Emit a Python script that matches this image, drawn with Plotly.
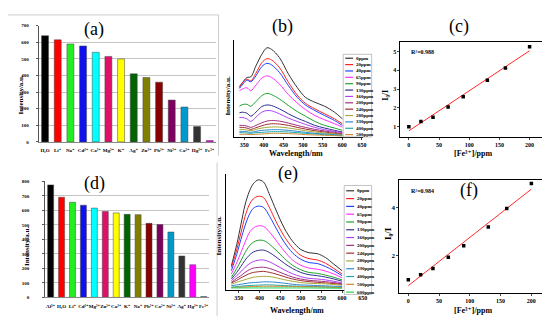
import plotly.graph_objects as go
import numpy as np

W, H = 550, 316
SERIF = "Liberation Serif, DejaVu Serif"


def px(x):
    return x / W


def py(y):
    return 1 - y / H


def dom_x(a, b):
    return [px(a), px(b)]


def dom_y(top, bottom):
    return [py(bottom), py(top)]


# ---------------- data ----------------
ions_a = ["H₂O", "Li⁺", "Na⁺", "Cd²⁺", "Ca²⁺", "Mg²⁺", "K⁺", "Ag⁺", "Zn²⁺", "Pb²⁺",
          "Ni²⁺", "Co²⁺", "Hg²⁺", "Fe³⁺"]
vals_a = [640, 615, 590, 578, 540, 515, 500, 410, 388, 360, 252, 210, 92, 8]
colors_a = ["#000000", "#ff0000", "#22ee22", "#1010ee", "#00ffff", "#e0106a", "#ffff00",
            "#006400", "#808000", "#8b0000", "#800060", "#0099cc", "#333333", "#ff00ff"]

ions_d = ["Al³⁺", "H₂O", "Li⁺", "Cd²⁺", "Mg²⁺", "Zn²⁺", "Ca²⁺", "K⁺", "Na⁺", "Pb²⁺",
          "Co²⁺", "Ni²⁺", "Ag⁺", "Hg²⁺", "Fe³⁺"]
vals_d = [775, 690, 655, 635, 615, 592, 582, 572, 570, 510, 502, 450, 285, 225, 6]
colors_d = ["#000000", "#ff0000", "#22ee22", "#1010ee", "#00ffff", "#e0106a", "#ffff00",
            "#006400", "#808000", "#8b0000", "#800060", "#0099cc", "#333333", "#ff00ff", "#4682b4"]

conc_b = ["0ppm", "20ppm", "40ppm", "65ppm", "90ppm", "130ppm", "160ppm", "200ppm",
          "240ppm", "280ppm", "330ppm", "400ppm", "500ppm"]
conc_e = conc_b + ["600ppm"]
line_colors = ["#333333", "#ff2020", "#2040ff", "#ff30ff", "#20a030", "#303090", "#b040f0",
               "#a03080", "#a03030", "#a8a838", "#3088d0", "#20a8a8", "#c88838", "#20d050"]

wl_b = [338, 345, 357, 367, 380, 395, 408, 420, 440, 463, 485, 506, 530, 555, 580, 600]
spec_b = [
    [450, 489, 540, 546, 645, 750, 810, 795, 720, 570, 450, 360, 315, 279, 225, 165],
    [459, 489, 525, 510, 579, 675, 711, 699, 630, 495, 381, 306, 255, 210, 165, 120],
    [441, 471, 516, 501, 555, 639, 669, 654, 585, 465, 360, 291, 240, 195, 150, 105],
    [420, 435, 447, 420, 471, 534, 555, 540, 480, 384, 309, 249, 195, 156, 120, 90],
    [279, 294, 297, 279, 321, 375, 396, 384, 345, 285, 231, 189, 141, 105, 81, 60],
    [219, 225, 216, 189, 225, 276, 291, 285, 255, 210, 171, 141, 105, 81, 60, 45],
    [177, 177, 165, 141, 180, 225, 240, 237, 210, 171, 141, 114, 87, 66, 51, 39],
    [105, 105, 99, 87, 105, 129, 144, 150, 144, 126, 105, 87, 69, 54, 42, 30],
    [87, 87, 81, 69, 84, 102, 114, 120, 117, 105, 87, 72, 57, 45, 33, 24],
    [69, 69, 63, 57, 69, 81, 87, 90, 90, 81, 69, 57, 45, 36, 27, 21],
    [51, 51, 48, 42, 51, 60, 63, 66, 66, 60, 51, 42, 33, 27, 21, 15],
    [39, 39, 36, 33, 39, 42, 45, 48, 48, 45, 39, 33, 27, 21, 15, 12],
    [24, 24, 24, 21, 24, 27, 30, 33, 33, 30, 27, 21, 18, 15, 12, 9],
]

wl_e = [332, 345, 355, 365, 375, 385, 397, 410, 425, 440, 460, 480, 500, 520, 540, 560, 580, 600]
spec_e = [
    [180, 343, 493, 643, 743, 805, 835, 818, 718, 605, 468, 368, 305, 280, 273, 243, 193, 143],
    [168, 305, 430, 555, 643, 690, 710, 700, 618, 518, 405, 318, 260, 235, 225, 200, 160, 118],
    [143, 268, 380, 485, 568, 618, 635, 625, 555, 468, 360, 280, 230, 205, 198, 175, 143, 105],
    [118, 205, 280, 360, 430, 468, 485, 480, 435, 375, 293, 225, 185, 163, 155, 140, 118, 88],
    [93, 160, 218, 280, 330, 360, 375, 373, 343, 300, 238, 185, 150, 130, 123, 110, 93, 73],
    [80, 130, 175, 223, 260, 285, 298, 300, 280, 248, 200, 160, 130, 113, 105, 95, 80, 63],
    [68, 105, 135, 168, 195, 213, 223, 225, 210, 185, 150, 120, 98, 85, 80, 73, 63, 50],
    [55, 85, 105, 130, 150, 163, 168, 170, 160, 143, 118, 95, 80, 70, 65, 60, 53, 43],
    [50, 70, 88, 105, 120, 130, 135, 138, 130, 118, 98, 80, 68, 60, 55, 50, 45, 38],
    [40, 55, 65, 75, 85, 93, 98, 100, 98, 90, 75, 63, 53, 48, 45, 43, 38, 33],
    [28, 35, 40, 45, 50, 53, 55, 58, 58, 55, 48, 40, 35, 33, 30, 28, 25, 23],
    [18, 22, 25, 28, 30, 32, 33, 35, 35, 33, 30, 27, 25, 23, 22, 20, 18, 15],
    [14, 17, 18, 20, 22, 23, 24, 25, 25, 25, 24, 23, 22, 21, 20, 18, 16, 14],
    [12, 12, 12, 12, 12, 12, 12, 12, 12, 12, 12, 12, 12, 12, 11, 11, 10, 10],
]

fe_c = [0, 20, 40, 65, 90, 130, 160, 200]
ratio_c = [1.0, 1.28, 1.5, 2.05, 2.6, 3.48, 4.12, 5.25]
fe_f = [0, 20, 40, 65, 90, 130, 160, 200]
ratio_f = [0.98, 1.19, 1.45, 1.92, 2.41, 3.19, 3.97, 5.02]

# ---------------- figure ----------------
fig = go.Figure()

fig.add_trace(go.Bar(x=ions_a, y=vals_a, marker=dict(color=colors_a, line=dict(color="#444", width=0.5)),
                     width=0.55, xaxis="x", yaxis="y", showlegend=False))
fig.add_trace(go.Bar(x=ions_d, y=vals_d, marker=dict(color=colors_d, line=dict(color="#444", width=0.5)),
                     width=0.55, xaxis="x4", yaxis="y4", showlegend=False))

for name, ys, col in zip(conc_b, spec_b, line_colors):
    fig.add_trace(go.Scatter(x=wl_b, y=ys, mode="lines", name=name,
                             line=dict(color=col, width=1, shape="spline", smoothing=0.9),
                             xaxis="x2", yaxis="y2", showlegend=False))
for name, ys, col in zip(conc_e, spec_e, line_colors):
    fig.add_trace(go.Scatter(x=wl_e, y=ys, mode="lines", name=name,
                             line=dict(color=col, width=1, shape="spline", smoothing=0.9),
                             xaxis="x5", yaxis="y5", showlegend=False))

for xs, ys, xa, ya in [(fe_c, ratio_c, "x3", "y3"), (fe_f, ratio_f, "x6", "y6")]:
    k, b = np.polyfit(xs, ys, 1)
    xfit = [min(xs), max(xs)]
    fig.add_trace(go.Scatter(x=xfit, y=[k * v + b for v in xfit], mode="lines",
                             line=dict(color="#ff2a2a", width=1), xaxis=xa, yaxis=ya, showlegend=False))
    fig.add_trace(go.Scatter(x=xs, y=ys, mode="markers",
                             marker=dict(symbol="square", size=3.5, color="black"),
                             xaxis=xa, yaxis=ya, showlegend=False))

tickf = dict(family=SERIF, size=6, color="black", weight="bold")
barxf = dict(family=SERIF, size=5, color="black", weight="bold")
baryf = dict(family=SERIF, size=5, color="black", weight="bold")

layout = dict(
    width=W, height=H, margin=dict(l=0, r=0, t=0, b=0),
    paper_bgcolor="white", plot_bgcolor="rgba(0,0,0,0)",
    showlegend=False,
)

layout["xaxis"] = dict(domain=dom_x(31, 210), anchor="y", type="category", showline=True, linecolor="#888",
                       linewidth=1, ticks="", tickfont=barxf, ticklabelstandoff=3, showgrid=False,
                       range=[-0.5, 13.5], tickangle=0)
layout["yaxis"] = dict(domain=dom_y(16, 134), anchor="x", range=[0, 700], tickvals=list(range(0, 701, 100)),
                       showgrid=True, gridcolor="#c4c4c4", gridwidth=1, showline=True, linecolor="#555",
                       ticks="outside", ticklen=2, tickcolor="#555", tickfont=baryf,
                       ticklabelstandoff=6, zeroline=False)
layout["xaxis4"] = dict(domain=dom_x(37.5, 203), anchor="y4", type="category", showline=True, linecolor="#888",
                        linewidth=1, ticks="", tickfont=barxf, ticklabelstandoff=4, showgrid=False,
                        range=[-0.5, 14.5], tickangle=0)
layout["yaxis4"] = dict(domain=dom_y(174, 292), anchor="x4", range=[0, 800], tickvals=list(range(0, 801, 100)),
                        showgrid=True, gridcolor="#c4c4c4", gridwidth=1, showline=True, linecolor="#555",
                        ticks="outside", ticklen=2, tickcolor="#555", tickfont=baryf,
                        ticklabelstandoff=12, zeroline=False)
layout["xaxis2"] = dict(domain=dom_x(228, 358), anchor="y2", range=[324, 652], tickvals=list(range(350, 651, 50)),
                        showline=True, linecolor="black", linewidth=1, ticks="outside", ticklen=2,
                        tickfont=tickf, showgrid=False, zeroline=False)
layout["yaxis2"] = dict(domain=dom_y(30, 129), anchor="x2", range=[0, 885], showline=True, linecolor="black",
                        linewidth=1, showticklabels=False, ticks="", showgrid=False, zeroline=False)
layout["xaxis5"] = dict(domain=dom_x(220, 358), anchor="y5", range=[319, 650], tickvals=list(range(350, 651, 50)),
                        showline=True, linecolor="black", linewidth=1, ticks="outside", ticklen=2,
                        tickfont=tickf, showgrid=False, zeroline=False)
layout["yaxis5"] = dict(domain=dom_y(167, 284), anchor="x5", range=[0, 877], showline=True, linecolor="black",
                        linewidth=1, showticklabels=False, ticks="", showgrid=False, zeroline=False)
layout["xaxis3"] = dict(domain=dom_x(396, 541), anchor="y3", range=[-14, 224], tickvals=[0, 50, 100, 150, 200],
                        showline=True, mirror=True, linecolor="black", linewidth=1, ticks="outside", ticklen=2,
                        tickfont=tickf, showgrid=False, zeroline=False)
layout["yaxis3"] = dict(domain=dom_y(32.3, 129.3), anchor="x3", range=[0.44, 5.52], tickvals=[1, 2, 3, 4, 5],
                        showline=True, mirror=True, linecolor="black", linewidth=1, ticks="outside", ticklen=2,
                        tickfont=tickf, showgrid=False, zeroline=False)
layout["xaxis6"] = dict(domain=dom_x(395, 544), anchor="y6", range=[-14.5, 225.5], tickvals=[0, 50, 100, 150, 200],
                        showline=True, mirror=True, linecolor="black", linewidth=1, ticks="outside", ticklen=2,
                        tickfont=tickf, showgrid=False, zeroline=False)
layout["yaxis6"] = dict(domain=dom_y(172.7, 287.3), anchor="x6", range=[0.43, 5.17], tickvals=[2, 4],
                        showline=True, mirror=True, linecolor="black", linewidth=1, ticks="outside", ticklen=2,
                        tickfont=dict(family=SERIF, size=7, color="black", weight="bold"),
                        showgrid=False, zeroline=False)

fig.update_layout(**layout)

annotations = []
shapes = []


def text(x, y, s, size, bold=True, angle=0, xanchor="center", family=SERIF):
    annotations.append(dict(x=px(x), y=py(y), xref="paper", yref="paper", text=s, showarrow=False,
                            textangle=angle, xanchor=xanchor, yanchor="middle",
                            font=dict(family=family, size=size, color="black",
                                      weight="bold" if bold else "normal")))


for lab, x, y in [("(a)", 87, 20), ("(b)", 277, 17), ("(c)", 455, 17),
                  ("(d)", 87, 176), ("(e)", 283, 166), ("(f)", 465, 183)]:
    text(x, y, lab, 18, bold=False)

text(13, 86, "Intensity/a.u.", 7, angle=-90)
text(19, 240, "Intensity/a.u.", 7, angle=-90)
text(222, 87, "Intensity/a.u.", 7, angle=-90)
text(213, 229, "Intensity/a.u.", 7, angle=-90)
text(291, 146, "Wavelength/nm", 8)
text(292, 305.5, "Wavelength/nm", 8)
text(470, 145.7, "[Fe³⁺]/ppm", 8)
text(470, 305.7, "[Fe³⁺]/ppm", 8)
text(381.5, 87, "I₀/I", 8, angle=-90)
text(384, 227, "I₀/I", 9, angle=-90)
text(405, 42.3, "R²=0.988", 6, xanchor="left")
text(405, 184, "R²=0.984", 6, xanchor="left")


def legend(labels, colors, x0, x1, ytop, ybot, first, step):
    shapes.append(dict(type="rect", xref="paper", yref="paper", x0=px(x0), x1=px(x1), y0=py(ybot), y1=py(ytop),
                       line=dict(color="#999", width=0.6), fillcolor="white", layer="above"))
    for i, (lab, col) in enumerate(zip(labels, colors)):
        yy = first + i * step
        shapes.append(dict(type="line", xref="paper", yref="paper", x0=px(x0 + 2), x1=px(x0 + 10),
                           y0=py(yy), y1=py(yy), line=dict(color=col, width=1.2), layer="above"))
        annotations.append(dict(x=px(x0 + 10.5), y=py(yy), xref="paper", yref="paper", text=lab, showarrow=False,
                                xanchor="left", yanchor="middle",
                                font=dict(family=SERIF, size=5, color="black", weight="bold")))


legend(conc_b, line_colors, 338.3, 367, 45, 129, 49, 6.47)
legend(conc_e, line_colors, 339.3, 367, 178.3, 289, 183.7, 7.92)

shapes.append(dict(type="line", xref="paper", yref="paper", x0=px(0), x1=px(212.5), y0=py(5), y1=py(5),
                   line=dict(color="#cccccc", width=1)))
shapes.append(dict(type="line", xref="paper", yref="paper", x0=px(212.5), x1=px(212.5), y0=py(5), y1=py(148),
                   line=dict(color="#cccccc", width=1)))
shapes.append(dict(type="line", xref="paper", yref="paper", x0=px(211), x1=px(211), y0=py(155), y1=py(316),
                   line=dict(color="#cccccc", width=1)))

fig.update_layout(annotations=annotations, shapes=shapes)
fig.write_html("out.html")
